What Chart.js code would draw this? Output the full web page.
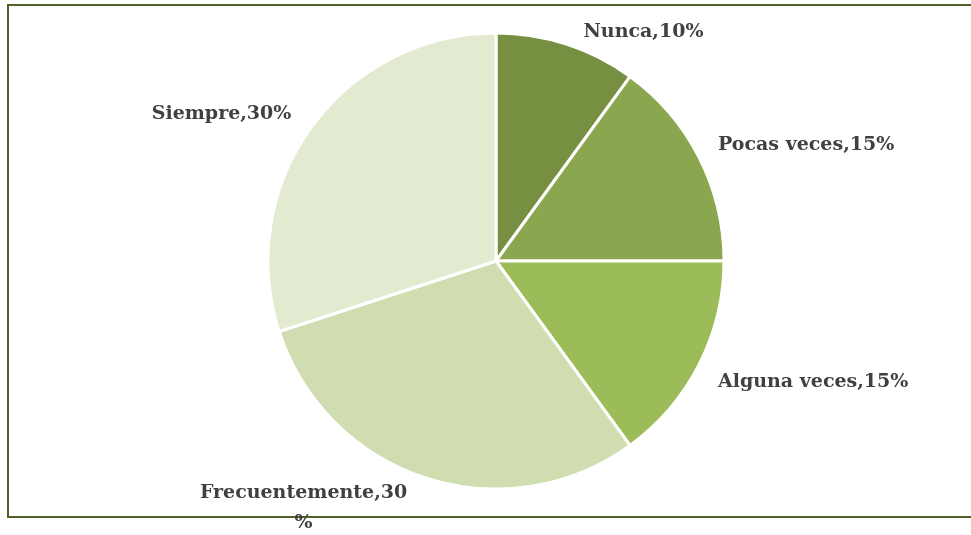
<!DOCTYPE html>
<html>
<head>
<meta charset="utf-8">
<script src="https://cdn.jsdelivr.net/npm/chart.js@4.4.0/dist/chart.umd.min.js"></script>
<style>
  html, body { margin: 0; padding: 0; background: #ffffff; }
  #wrap { width: 971px; height: 535px; position: relative; }
</style>
</head>
<body>
<div id="wrap"><canvas id="c" width="971" height="535"></canvas></div>
<script>
const categories = ['Nunca', 'Pocas veces', 'Alguna veces', 'Frecuentemente', 'Siempre'];
const values = [10, 15, 15, 30, 30];
const valueLabels = ['10%', '15%', '15%', '30', '30%'];
const extraLines = ['', '', '', '%', ''];
const sliceColors = ['#778F41', '#8AA64F', '#9CBB59', '#CFDDB0', '#E2EACF'];
// label offsets from each slice's outer mid-point (pixels)
const labelOffsets = [[77, -12], [107, -12], [114, 18], [-122, 15], [-90, -13]];

const labelPlugin = {
  id: 'sliceLabels',
  beforeDraw(chart) {
    const ctx = chart.ctx;
    ctx.save();
    ctx.strokeStyle = '#4F6228';
    ctx.lineWidth = 2;
    ctx.strokeRect(8, 5, 1000, 512);
    ctx.restore();
  },
  afterDatasetsDraw(chart) {
    const ctx = chart.ctx;
    const meta = chart.getDatasetMeta(0);
    ctx.save();
    ctx.font = 'bold 19px "DejaVu Serif"';
    ctx.fillStyle = '#404040';
    ctx.textAlign = 'center';
    ctx.textBaseline = 'middle';
    meta.data.forEach((arc, i) => {
      const p = arc.getProps(['x', 'y', 'startAngle', 'endAngle', 'outerRadius'], true);
      const mid = (p.startAngle + p.endAngle) / 2;
      const mx = p.x + Math.cos(mid) * p.outerRadius;
      const my = p.y + Math.sin(mid) * p.outerRadius;
      const lx = mx + labelOffsets[i][0];
      const ly = my + labelOffsets[i][1];
      ctx.fillText(categories[i] + ',' + valueLabels[i], lx, ly);
      if (extraLines[i]) ctx.fillText(extraLines[i], lx, ly + 30);
    });
    ctx.restore();
  }
};

new Chart(document.getElementById('c'), {
  type: 'pie',
  data: {
    labels: categories,
    datasets: [{
      data: values,
      backgroundColor: sliceColors,
      borderColor: '#ffffff',
      borderWidth: 3
    }]
  },
  options: {
    responsive: false,
    animation: false,
    layout: { padding: { left: 21, right: 0, top: 31.5, bottom: 44.5 } },
    plugins: {
      legend: { display: false },
      tooltip: { enabled: false }
    }
  },
  plugins: [labelPlugin]
});
</script>
</body>
</html>
